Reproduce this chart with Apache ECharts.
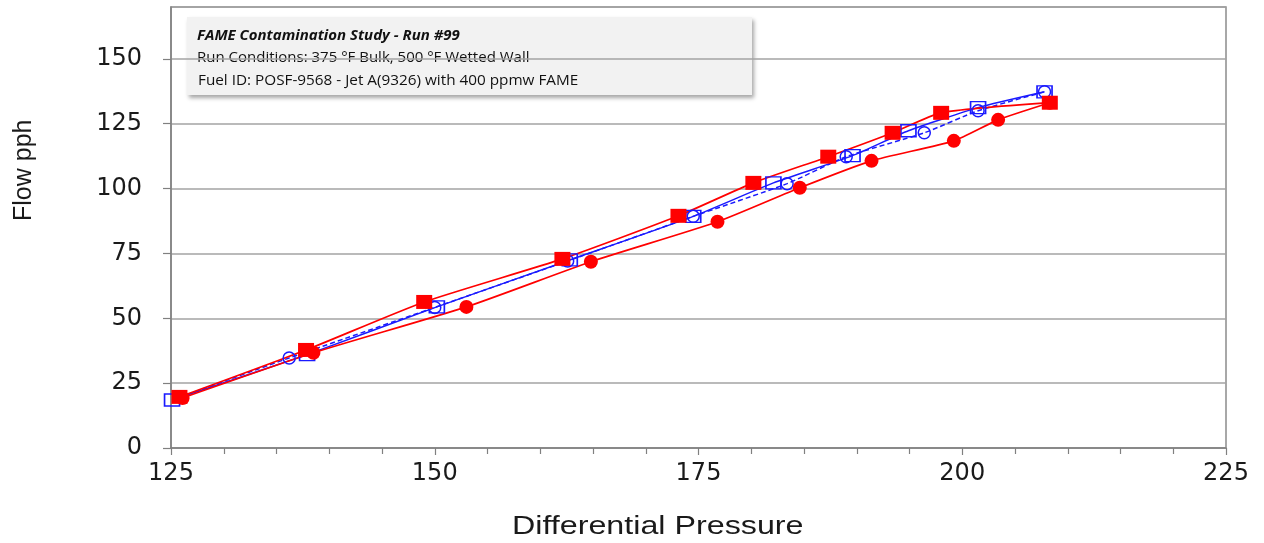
<!DOCTYPE html>
<html>
<head>
<meta charset="utf-8">
<script src="https://cdn.jsdelivr.net/npm/echarts@6/dist/echarts.min.js"></script>
<style>html,body{margin:0;padding:0;background:#fff;}#c{width:1264px;height:543px;}</style>
</head>
<body>
<div id="c"></div>
<script>
// Data
const redSquareX = [125.8, 137.8, 149.0, 162.1, 173.1, 180.2, 187.3, 193.4, 198.0, 208.3];
const redSquareY = [19.7, 37.8, 56.3, 72.9, 89.5, 102.2, 112.3, 121.5, 129.2, 133.1];
const redCircleX = [126.1, 138.5, 153.0, 164.8, 176.8, 184.6, 191.4, 199.2, 203.4, 208.3];
const redCircleY = [19.3, 36.7, 54.4, 71.8, 87.2, 100.3, 110.7, 118.4, 126.5, 133.1];
const blueSquareX = [125.1, 137.9, 150.2, 162.8, 174.5, 182.1, 189.6, 194.9, 201.5, 207.8];
const blueSquareY = [18.5, 36.0, 54.4, 72.5, 89.3, 102.2, 112.7, 122.3, 131.2, 137.3];
const blueCircleX = [125.1, 136.2, 150.0, 162.6, 174.5, 183.4, 189.0, 196.4, 201.5, 207.8];
const blueCircleY = [18.5, 34.7, 54.2, 72.1, 89.3, 101.9, 112.3, 121.5, 130.0, 137.3];
const xTicks = [125, 150, 175, 200, 225];
const yTicks = [0, 25, 50, 75, 100, 125, 150];
const titleLines = [
  'FAME Contamination Study - Run #99',
  'Run Conditions: 375 °F Bulk, 500 °F Wetted Wall',
  'Fuel ID: POSF-9568 - Jet A(9326) with 400 ppmw FAME'
];
const xName = 'Differential Pressure';
const yName = 'Flow pph';

function pairs(xs, ys) { return xs.map((x, i) => [x, ys[i]]); }

const chart = echarts.init(document.getElementById('c'));
const RED = '#ff0000', BLUE = '#1a1aff';
const blueCircleData = pairs(blueCircleX, blueCircleY).map((p, i) => i === 0 ? { value: p, symbol: 'none' } : p);
chart.setOption({
  animation: false,
  grid: { left: 171, right: 38, top: 7, bottom: 95, show: true, borderColor: '#8c8c8c', borderWidth: 1.5, backgroundColor: 'transparent' },
  xAxis: {
    type: 'value', min: xTicks[0], max: xTicks[xTicks.length - 1], interval: 25,
    axisLine: { onZero: false, lineStyle: { color: '#808080', width: 1.5 } },
    axisTick: { show: true, length: 7, lineStyle: { color: '#808080', width: 1.2 } },
    minorTick: { show: true, splitNumber: 5, length: 6, lineStyle: { color: '#808080', width: 1.2 } },
    splitLine: { show: false },
    axisLabel: { margin: 14, fontFamily: 'DejaVu Sans', fontSize: 24, color: '#1a1a1a' }
  },
  yAxis: {
    type: 'value', min: 0, max: 170, interval: 25,
    axisLine: { show: true, lineStyle: { color: '#808080', width: 1.5 } },
    axisTick: { show: true, length: 8, lineStyle: { color: '#808080', width: 1.2 } },
    splitLine: { show: true, lineStyle: { color: '#a3a3a3', width: 1.6 } },
    axisLabel: { margin: 29, fontFamily: 'DejaVu Sans', fontSize: 24, color: '#1a1a1a', showMaxLabel: false,
      formatter: v => (yTicks.indexOf(v) >= 0 ? String(v) : '') }
  },
  graphic: [
    { type: 'text', x: 512, y: 527, scaleX: 1.24, z: 100,
      style: { text: xName, fontFamily: 'Liberation Sans, Arial', fontSize: 26, fill: '#1a1a1a', textVerticalAlign: 'middle' } },
    { type: 'text', x: 12, y: 221, rotation: Math.PI / 2, z: 100,
      style: { text: yName, fontFamily: 'Liberation Sans, Arial', fontSize: 25, fill: '#1a1a1a' } },
    { type: 'group', left: 187, top: 17, z: 100, children: [
      { type: 'rect', shape: { x: 0, y: 0, width: 565, height: 78 },
        style: { fill: '#f2f2f2', shadowBlur: 4, shadowOffsetX: 2, shadowOffsetY: 3, shadowColor: 'rgba(0,0,0,0.35)' } },
      { type: 'text', x: 10, y: 19, style: { text: titleLines[0], fontFamily: 'Open Sans', fontSize: 15, fontWeight: 'bold', fontStyle: 'italic', fill: '#111', textVerticalAlign: 'middle' } },
      { type: 'text', x: 10, y: 41, style: { text: titleLines[1], fontFamily: 'Open Sans', fontSize: 15, fill: '#111', textVerticalAlign: 'middle' } },
      { type: 'text', x: 11, y: 64, style: { text: titleLines[2], fontFamily: 'Open Sans', fontSize: 15.3, fill: '#111', textVerticalAlign: 'middle' } }
    ] }
  ],
  series: [
    { type: 'line', data: blueCircleData, smooth: 0.2, symbol: 'circle', symbolSize: 12,
      lineStyle: { color: BLUE, width: 1.5, type: [5, 3] },
      itemStyle: { color: 'rgba(255,255,255,0)', borderColor: BLUE, borderWidth: 1.5 } },
    { type: 'line', data: pairs(blueSquareX, blueSquareY), smooth: 0.2, symbol: 'rect', symbolSize: [15, 12],
      lineStyle: { color: BLUE, width: 1.5 },
      itemStyle: { color: 'rgba(255,255,255,0)', borderColor: BLUE, borderWidth: 1.5 } },
    { type: 'line', data: pairs(redCircleX, redCircleY), smooth: 0.2, symbol: 'circle', symbolSize: 14,
      lineStyle: { color: RED, width: 1.7 }, itemStyle: { color: RED } },
    { type: 'line', data: pairs(redSquareX, redSquareY), smooth: 0.2, symbol: 'rect', symbolSize: [16, 14],
      lineStyle: { color: RED, width: 1.7 }, itemStyle: { color: RED } }
  ]
});
</script>
</body>
</html>
